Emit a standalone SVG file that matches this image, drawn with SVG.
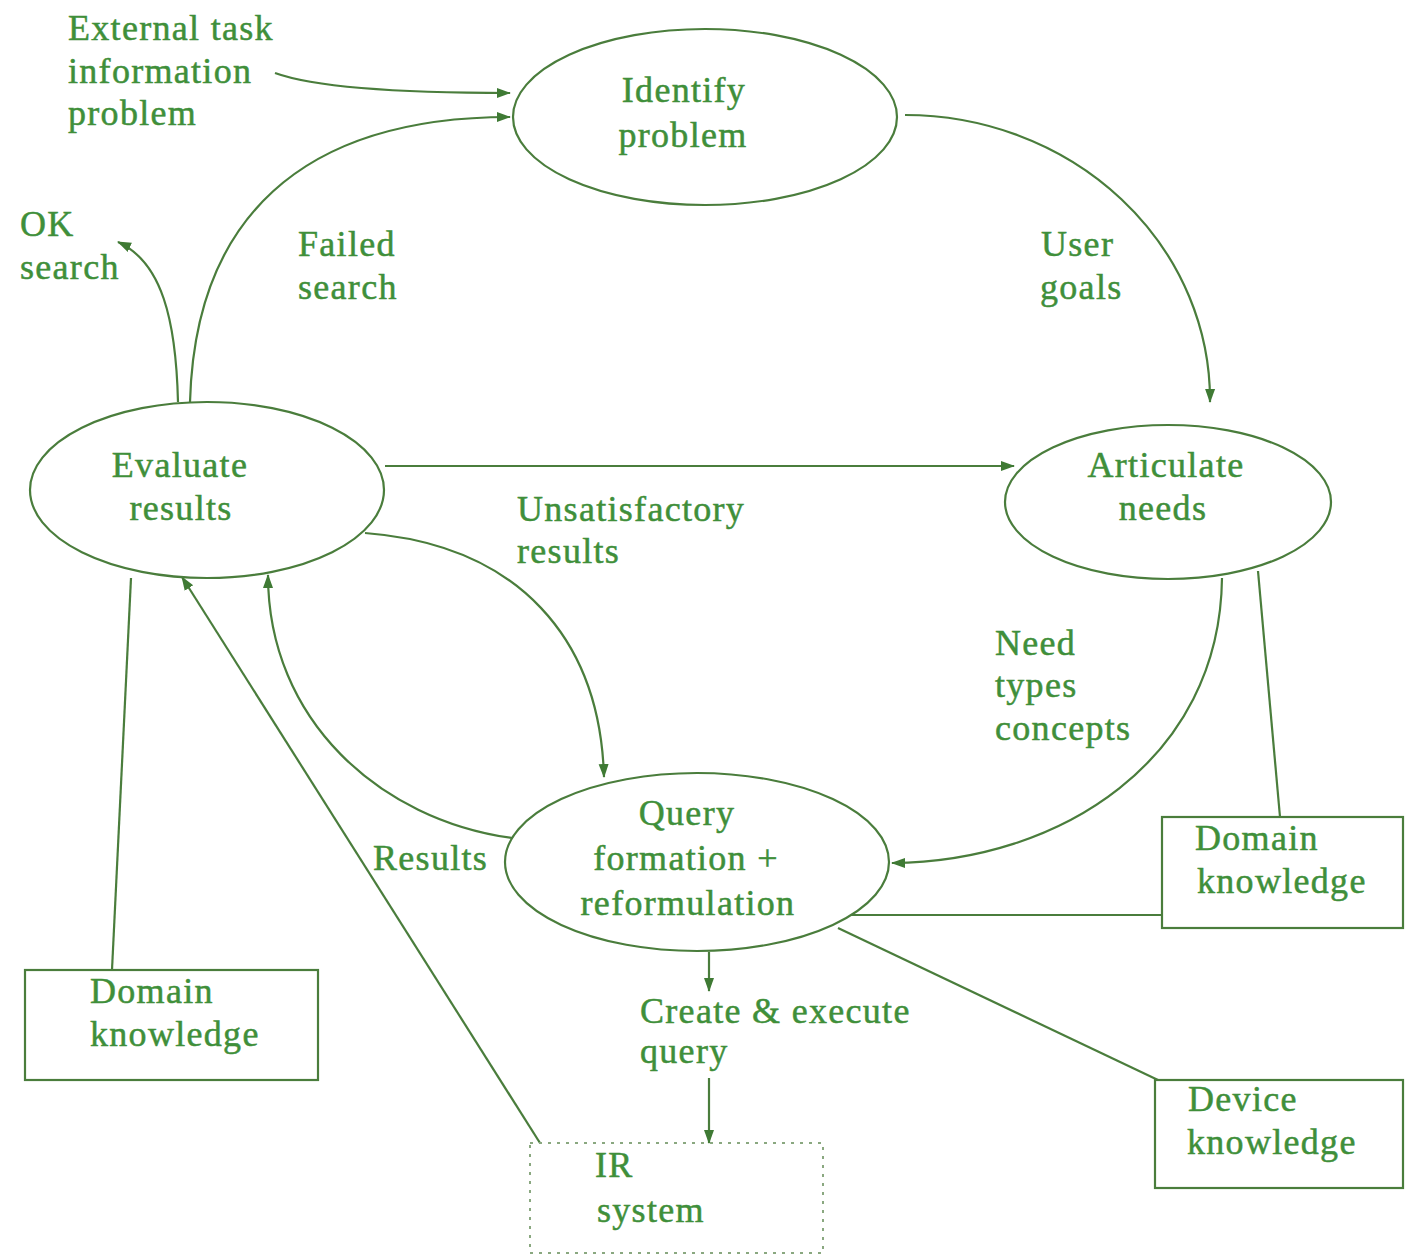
<svg xmlns="http://www.w3.org/2000/svg" width="1410" height="1258" viewBox="0 0 1410 1258">
<style>
text{font-family:"Liberation Serif","Times New Roman",serif;font-size:36px;fill:#3f8f3a;stroke:#3f8f3a;stroke-width:0.5;letter-spacing:1.3px}
.n{fill:#ffffff;stroke:#4a7d3c;stroke-width:2.2}
.c{fill:none;stroke:#4a7d3c;stroke-width:2.2}
.a{marker-end:url(#ah)}
.dot{fill:none;stroke:#8aa880;stroke-width:2;stroke-dasharray:3 6}
</style>
<defs>
<marker id="ah" markerUnits="userSpaceOnUse" markerWidth="14" markerHeight="12" viewBox="0 0 14 12" refX="13" refY="6" orient="auto">
<path d="M0,1 L14,6 L0,11 Z" fill="#3f7a34"/>
</marker>
</defs>
<rect width="1410" height="1258" fill="#ffffff"/>
<g id="connectors">
<path class="c a" d="M275,73 Q330,93 510,93"/>
<path class="c a" d="M190,402 C195,220 300,117 510,117"/>
<path class="c a" d="M178,402 C176,320 162,262 118,242"/>
<path class="c a" d="M905,115 A305,285 0 0 1 1210,402"/>
<path class="c a" d="M385,466 L1014,466"/>
<path class="c a" d="M365,533 C520,545 600,640 604,777"/>
<path class="c a" d="M512,838 C380,820 268,720 268,575"/>
<path class="c a" d="M540,1143 L182,577"/>
<path class="c" d="M112,970 L131,578"/>
<path class="c a" d="M1222,578 C1220,760 1060,862 892,863"/>
<path class="c" d="M1258,571 L1280,817"/>
<path class="c" d="M850,915 L1162,915"/>
<path class="c" d="M838,928 L1158,1080"/>
<path class="c a" d="M709,952 L709,991"/>
<path class="c a" d="M709,1078 L709,1143"/>
</g>
<g id="ext-label">
<text x="68" y="40">External task</text>
<text x="68" y="83">information</text>
<text x="68" y="125">problem</text>
</g>
<g id="ok-label">
<text x="20" y="236">OK</text>
<text x="20" y="279">search</text>
</g>
<g id="failed-label">
<text x="298" y="256">Failed</text>
<text x="298" y="299">search</text>
</g>
<g id="user-label">
<text x="1041" y="256">User</text>
<text x="1040" y="299">goals</text>
</g>
<g id="unsat-label">
<text x="517" y="521">Unsatisfactory</text>
<text x="517" y="563">results</text>
</g>
<g id="need-label">
<text x="995" y="655">Need</text>
<text x="995" y="697">types</text>
<text x="995" y="740">concepts</text>
</g>
<g id="results-label">
<text x="373" y="870">Results</text>
</g>
<g id="create-label">
<text x="640" y="1023">Create &amp; execute</text>
<text x="640" y="1063">query</text>
</g>
<g id="identify">
<ellipse class="n" cx="705" cy="117" rx="192" ry="88"/>
<text x="684" y="102" text-anchor="middle">Identify</text>
<text x="683" y="147" text-anchor="middle">problem</text>
</g>
<g id="evaluate">
<ellipse class="n" cx="207" cy="490" rx="177" ry="88"/>
<text x="180" y="477" text-anchor="middle">Evaluate</text>
<text x="181" y="520" text-anchor="middle">results</text>
</g>
<g id="articulate">
<ellipse class="n" cx="1168" cy="502" rx="163" ry="77"/>
<text x="1166" y="477" text-anchor="middle">Articulate</text>
<text x="1163" y="520" text-anchor="middle">needs</text>
</g>
<g id="query">
<ellipse class="n" cx="697" cy="862" rx="192" ry="89"/>
<text x="687" y="825" text-anchor="middle">Query</text>
<text x="686" y="870" text-anchor="middle">formation +</text>
<text x="688" y="915" text-anchor="middle">reformulation</text>
</g>
<g id="domain-left">
<rect class="n" x="25" y="970" width="293" height="110"/>
<text x="90" y="1003">Domain</text>
<text x="90" y="1046">knowledge</text>
</g>
<g id="domain-right">
<rect class="n" x="1162" y="817" width="241" height="111"/>
<text x="1195" y="850">Domain</text>
<text x="1197" y="893">knowledge</text>
</g>
<g id="device">
<rect class="n" x="1155" y="1080" width="248" height="108"/>
<text x="1188" y="1111">Device</text>
<text x="1187" y="1154">knowledge</text>
</g>
<g id="ir-system">
<rect class="dot" x="530" y="1143" width="293" height="110"/>
<text x="595" y="1177">IR</text>
<text x="597" y="1222">system</text>
</g>
</svg>
